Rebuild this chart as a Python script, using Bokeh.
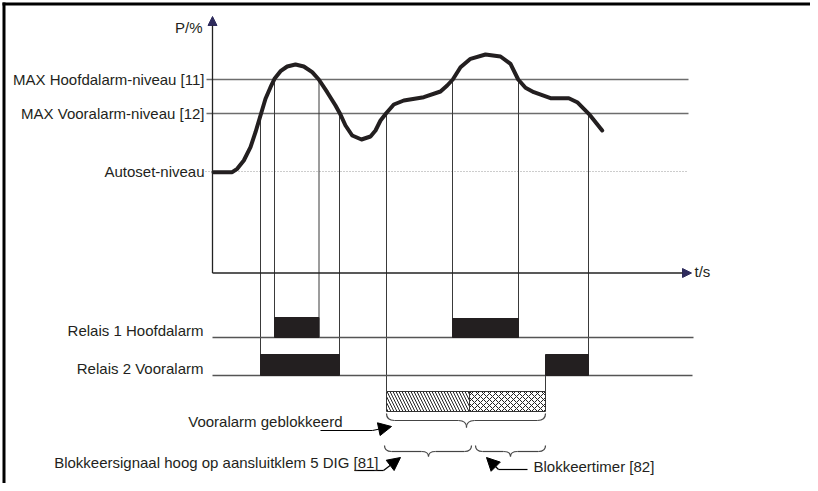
from bokeh.plotting import figure
from bokeh.models import Range1d, Arrow, NormalHead
from bokeh.core.properties import value
from bokeh.embed import file_html
from bokeh.resources import INLINE

# ---- data (diagram units: horizontal = time, vertical = level, page-pixel scale) ----
curve_t = [213, 231.7, 236.7, 243.3, 250, 255, 260, 265, 270, 274, 280, 286.7, 295, 303.3,
           311.7, 318.3, 326.7, 335, 339.3, 345, 351.7, 361, 370, 375, 380, 385.7, 393.3,
           403.3, 423.3, 440, 446.7, 452.3, 460, 470, 485, 500, 510, 517.7, 525, 533.3,
           550, 568.3, 576.7, 588.3, 601.7]
curve_p = [171.7, 171.7, 168.3, 160, 146.7, 131.7, 115, 98.3, 86.7, 78.3, 70.7, 66, 64, 66,
           71.7, 79, 91.7, 105, 112.7, 125, 135, 139, 136, 130, 120, 112.7, 104,
           100, 96.7, 91, 85, 79, 66.7, 58.3, 54, 56, 63.3, 79, 87.3, 91.7,
           97.7, 97.7, 101.7, 113.3, 130]

level_names = ["MAX Hoofdalarm-niveau [11]", "MAX Vooralarm-niveau [12]", "Autoset-niveau"]
level_values = [79, 113, 171]

# threshold crossing times and the lane each crossing drops to
cross_t = [260, 274, 318.5, 339, 386, 452, 518, 588]
cross_from = [113, 79, 79, 113, 113, 79, 79, 113]
cross_to = [375, 337, 337, 375, 391, 337, 337, 375]

relay_names = ["Relais 1 Hoofdalarm", "Relais 2 Vooralarm"]
relay_base = [337, 375]
relay1_on = [274, 452]
relay1_off = [318.5, 518]
relay1_top = [317, 318]
relay2_on = [260, 545]
relay2_off = [339, 588]
relay2_top = [354, 354]

block_start, block_mid, block_end = 386, 469, 545

INK = "#231f20"
FONT = value("Liberation Sans")

p = figure(width=810, height=483, output_backend="svg", toolbar_location=None,
           x_range=Range1d(0, 810), y_range=Range1d(483, 0),
           x_axis_location=None, y_axis_location=None, min_border=0)
p.grid.visible = False
p.outline_line_color = None
p.background_fill_color = "white"

# outer frame (top and left visible)
p.segment(x0=[3.5, 2], y0=[2, 3.5], x1=[3.5, 810], y1=[483, 3.5], line_color="black", line_width=3)

# level lines
p.segment(x0=[206, 206], y0=level_values[:2], x1=[688, 688], y1=level_values[:2],
          line_color="#6d6d6d", line_width=1.6)
p.segment(x0=[205], y0=[level_values[2]], x1=[688], y1=[level_values[2]],
          line_color="#9a9a9a", line_width=1, line_dash="1 2")

# vertical guides
p.segment(x0=cross_t, y0=cross_from, x1=cross_t, y1=cross_to, line_color="#3a3a3a", line_width=1)
p.segment(x0=[block_end], y0=[370], x1=[block_end], y1=[391], line_color="#3a3a3a", line_width=1)

# axes with arrowheads
head_col = "#2e2b5c"
p.add_layout(Arrow(end=NormalHead(size=9, fill_color=head_col, line_color=head_col),
                   x_start=212, y_start=272.5, x_end=212, y_end=16,
                   line_color="#222222", line_width=1.3))
p.add_layout(Arrow(end=NormalHead(size=9, fill_color=head_col, line_color=head_col),
                   x_start=212, y_start=272.5, x_end=691, y_end=272.5,
                   line_color="#222222", line_width=1.3))

# relay baselines
p.segment(x0=[212, 212], y0=relay_base, x1=[693, 692], y1=relay_base, line_color="#555555", line_width=1.6)

# relay bars
p.quad(left=relay1_on, right=relay1_off, top=relay1_top, bottom=[relay_base[0]] * 2,
       fill_color=INK, line_color=INK)
p.quad(left=relay2_on, right=relay2_off, top=relay2_top, bottom=[relay_base[1]] * 2,
       fill_color=INK, line_color=INK)

# blocking bar (hatched)
p.quad(left=[block_start], right=[block_mid], top=[391], bottom=[411], fill_color="white",
       hatch_pattern="\\", hatch_color="#222222", hatch_scale=6, hatch_weight=1,
       line_color="#333333", line_width=1)
p.quad(left=[block_mid], right=[block_end], top=[391], bottom=[411], fill_color="white",
       hatch_pattern="x", hatch_color="#222222", hatch_scale=6, hatch_weight=1,
       line_color="#333333", line_width=1)

# process curve
p.line(curve_t, curve_p, line_color=INK, line_width=4, line_join="round", line_cap="round")


def brace(xa, xb, xm, ytop, ybody, ytip, r, col="#444444"):
    p.quadratic(x0=[xa, xm - r, xm + r, xb], y0=[ytop, ybody, ybody, ytop],
                x1=[xa + r, xm, xm, xb - r], y1=[ybody, ytip, ytip, ybody],
                cx=[xa, xm, xm, xb], cy=[ybody, ybody, ybody, ybody],
                line_color=col, line_width=1.2)
    p.segment(x0=[xa + r, xm + r], y0=[ybody, ybody], x1=[xm - r, xb - r], y1=[ybody, ybody],
              line_color=col, line_width=1.2)


brace(386, 545, 466, 413, 420, 427, 8)
brace(384, 471, 428, 445, 451, 456, 7)
brace(475, 545, 510, 445, 451, 456, 7)

# pointer arrows
headk = dict(fill_color="black", line_color="black")
p.segment(x0=[320, 354, 498], y0=[430, 470, 469], x1=[372, 383, 527], y1=[430, 470, 469],
          line_color="black", line_width=1.2)
p.add_layout(Arrow(end=NormalHead(size=13, **headk), x_start=372, y_start=430, x_end=391, y_end=426,
                   line_color="black", line_width=1.2))
p.add_layout(Arrow(end=NormalHead(size=13, **headk), x_start=383, y_start=470, x_end=400, y_end=457,
                   line_color="black", line_width=1.2))
p.add_layout(Arrow(end=NormalHead(size=13, **headk), x_start=498, y_start=469, x_end=486, y_end=457,
                   line_color="black", line_width=1.2))

# texts
tstyle = dict(text_font=FONT, text_font_size="15px", text_color=INK, text_baseline="middle")
p.text(x=[204, 204, 204], y=level_values, text=level_names, text_align="right", **tstyle)
p.text(x=[202], y=[27], text=["P/%"], text_align="right", **tstyle)
p.text(x=[694], y=[271], text=["t/s"], text_align="left", **tstyle)
p.text(x=[203, 203], y=[330, 368], text=relay_names, text_align="right", **tstyle)
p.text(x=[342], y=[421], text=["Vooralarm geblokkeerd"], text_align="right", **tstyle)
p.text(x=[378], y=[462], text=["Blokkeersignaal hoog op aansluitklem 5 DIG [81]"], text_align="right", **tstyle)
p.text(x=[533], y=[466], text=["Blokkeertimer [82]"], text_align="left", **tstyle)

open("out.html", "w").write(file_html(p, INLINE))
